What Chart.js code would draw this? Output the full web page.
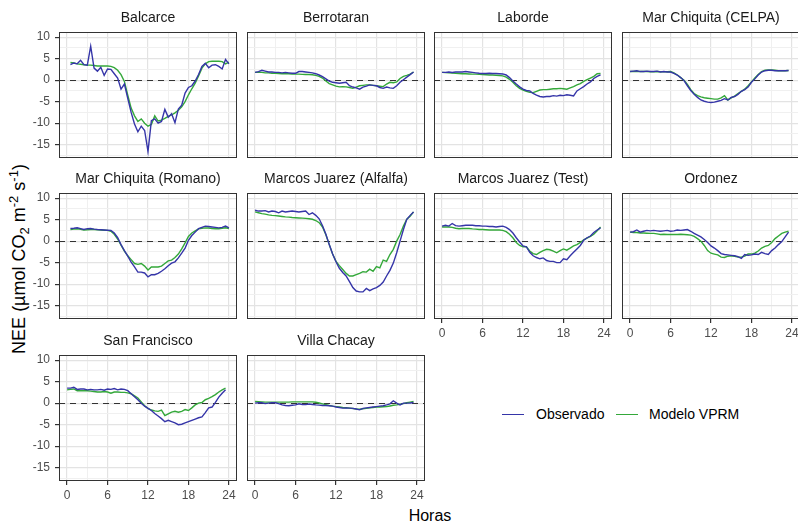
<!DOCTYPE html>
<html>
<head>
<meta charset="utf-8">
<script src="https://cdn.jsdelivr.net/npm/chart.js@4.4.1/dist/chart.umd.min.js"></script>
<style>
  html, body { margin: 0; padding: 0; background: #fff; }
  body { width: 798px; height: 523px; position: relative; overflow: hidden; font-family: "Liberation Sans", Arial, sans-serif; }
  canvas.panel { position: absolute; }
  #ylab { position: absolute; left: 19px; top: 259px; transform: translate(-50%, -50%) rotate(-90deg); white-space: nowrap; font-size: 18px; color: #000; }
  #ylab sub, #ylab sup { font-size: 13px; }
  #xlab { position: absolute; left: 430px; top: 516px; transform: translate(-50%, -50%); font-size: 16px; color: #000; }
  .leg-line { position: absolute; height: 1.5px; width: 22px; }
  .leg-text { position: absolute; font-size: 14px; color: #000; transform: translateY(-50%); white-space: nowrap; }
</style>
</head>
<body>
<div id="ylab">NEE (µmol CO<sub>2</sub> m<sup>-2</sup> s<sup>-1</sup>)</div>
<div id="xlab">Horas</div>
<div class="leg-line" style="left:502px; top:413.5px; background:#3535A8;"></div>
<div class="leg-text" style="left:536px; top:414px;">Observado</div>
<div class="leg-line" style="left:616px; top:413.5px; background:#34A83A;"></div>
<div class="leg-text" style="left:649px; top:414px;">Modelo VPRM</div>
<script>
// horas (medias horas)
const hoursA = [0, 0.5, 1, 1.5, 2, 2.5, 3, 3.5, 4, 4.5, 5, 5.5, 6, 6.5, 7, 7.5, 8, 8.5, 9, 9.5, 10, 10.5, 11, 11.5,
                12, 12.5, 13, 13.5, 14, 14.5, 15, 15.5, 16, 16.5, 17, 17.5, 18, 18.5, 19, 19.5, 20, 20.5, 21, 21.5, 22, 22.5, 23, 23.5];
const hoursB = [0.5, 1, 1.5, 2, 2.5, 3, 3.5, 4, 4.5, 5, 5.5, 6, 6.5, 7, 7.5, 8, 8.5, 9, 9.5, 10, 10.5, 11, 11.5, 12,
                12.5, 13, 13.5, 14, 14.5, 15, 15.5, 16, 16.5, 17, 17.5, 18, 18.5, 19, 19.5, 20, 20.5, 21, 21.5, 22, 22.5, 23, 23.5, 24];

const xTicks = [0, 3, 6, 9, 12, 15, 18, 21, 24];
const yTicks = [-17.5, -15, -12.5, -10, -7.5, -5, -2.5, 0, 2.5, 5, 7.5, 10];

const stations = ['Balcarce', 'Berrotaran', 'Laborde', 'Mar Chiquita (CELPA)',
                  'Mar Chiquita (Romano)', 'Marcos Juarez (Alfalfa)', 'Marcos Juarez (Test)', 'Ordonez',
                  'San Francisco', 'Villa Chacay'];

const balcarceObs = [3.6, 4.0, 3.8, 4.6, 3.6, 3.5, 7.9, 2.8,
  2.1, 3.0, 1.1, 2.6, 2.5, 1.5, 0.5, -2.1,
  -0.9, -4.2, -7.5, -10.2, -12.0, -10.7, -11.7, -16.6,
  -9.4, -9.0, -10.0, -9.6, -6.8, -8.6, -7.8, -9.9,
  -6.7, -5.8, -3.0, -1.7, -1.3, -0.2, 1.3, 3.2,
  3.9, 2.9, 3.5, 3.6, 3.2, 2.6, 4.8, 3.8];
const balcarceMod = [4.1, 4.0, 3.8, 3.7, 3.6, 3.5, 3.5, 3.4,
  3.3, 3.3, 3.3, 3.3, 3.2, 2.9, 2.3, 1.3,
  -0.3, -3.5, -6.5, -8.3, -9.6, -9.0, -10.0, -10.7,
  -10.3, -8.3, -9.5, -9.3, -8.9, -8.4, -8.1, -7.6,
  -7.0, -6.2, -5.0, -3.4, -2.0, -0.7, 1.0, 2.8,
  3.8, 4.3, 4.4, 4.4, 4.4, 4.3, 3.8, 4.2];

const berrotaranObs = [1.8, 2.0, 2.3, 2.1, 1.9, 1.9, 1.8, 1.8,
  1.7, 1.8, 1.7, 1.6, 1.6, 2.0, 2.0, 1.9,
  1.8, 1.7, 1.5, 1.2, 0.8, 0.3, -0.2, -0.5,
  -0.6, -0.7, -0.6, -0.5, -1.3, -1.6, -1.8, -2.1,
  -1.6, -1.4, -1.1, -1.2, -1.3, -1.7, -1.9, -1.6,
  -1.8, -1.9, -1.3, -0.5, 0.1, 0.7, 1.3, 1.9];
const berrotaranMod = [1.8, 1.8, 1.8, 1.7, 1.7, 1.6, 1.6, 1.55,
  1.5, 1.5, 1.5, 1.45, 1.4, 1.4, 1.35, 1.3,
  1.3, 1.25, 1.1, 0.9, 0.5, -0.2, -0.8, -1.1,
  -1.4, -1.55, -1.5, -1.55, -1.7, -1.9, -1.6, -1.3,
  -1.2, -1.1, -1.1, -1.2, -1.3, -1.4, -1.5, -0.9,
  -0.5, -0.6, -0.4, 0.4, 0.9, 1.1, 1.4, 1.9];

const labordeObs = [1.8, 1.8, 1.9, 1.8, 1.9, 1.9, 1.9, 2.0,
  1.9, 1.8, 1.7, 1.6, 1.55, 1.55, 1.6, 1.55,
  1.55, 1.5, 1.45, 1.2, 0.6, -0.2, -0.9, -1.55,
  -2.1, -2.4, -2.5, -3.1, -3.5, -3.8, -3.9, -3.8,
  -3.8, -3.6, -3.7, -3.5, -3.6, -3.4, -3.5, -3.65,
  -2.5, -2.0, -1.5, -0.9, -0.4, 0.4, 0.9, 1.25];
const labordeMod = [1.8, 1.75, 1.7, 1.65, 1.6, 1.55, 1.5, 1.5,
  1.45, 1.4, 1.4, 1.35, 1.3, 1.25, 1.2, 1.2,
  1.15, 1.1, 1.0, 0.7, 0.2, -0.5, -1.3, -1.9,
  -2.3, -2.6, -2.8, -2.9, -2.6, -2.3, -2.2, -2.2,
  -2.1, -2.0, -2.0, -1.9, -2.0, -2.1, -1.8, -1.5,
  -1.1, -0.8, -0.3, 0.1, 0.5, 0.9, 1.5, 1.55];

const celpaObs = [2.0, 2.1, 2.2, 2.0, 2.0, 2.1, 2.0, 2.0,
  2.1, 1.9, 2.0, 1.9, 1.9, 1.6, 1.2, 0.6,
  -0.1, -1.3, -2.4, -3.3, -4.0, -4.6, -4.9, -5.1,
  -5.2, -5.1, -4.9, -4.7, -4.3, -4.6, -4.0, -3.8,
  -3.3, -2.6, -2.2, -1.6, -0.5, 0.3, 1.2, 1.9,
  2.2, 2.3, 2.3, 2.2, 2.2, 2.2, 2.2, 2.25];
const celpaMod = [2.0, 2.0, 2.0, 2.0, 2.0, 2.0, 1.95, 1.95,
  2.0, 1.95, 1.95, 1.95, 2.0, 1.7, 1.2, 0.6,
  0.0, -1.0, -2.2, -3.1, -3.6, -3.9, -4.1, -4.2,
  -4.3, -4.4, -4.4, -4.1, -3.6, -4.6, -4.1, -3.7,
  -3.1, -2.6, -2.1, -1.3, -0.4, 0.5, 1.3, 2.0,
  2.3, 2.4, 2.4, 2.3, 2.2, 2.2, 2.2, 2.25];

const romanoObs = [2.95, 3.0, 3.1, 2.9, 2.7, 2.9, 2.95, 2.8,
  2.7, 2.65, 2.6, 2.55, 2.5, 1.9, 0.8, -0.8,
  -2.2, -3.5, -4.9, -6.0, -7.2, -7.2, -7.4, -8.3,
  -7.8, -7.8, -7.5, -7.0, -6.4, -5.7, -5.1, -4.8,
  -3.9, -2.8, -1.6, 0.2, 1.3, 2.1, 2.9, 3.2,
  3.5, 3.4, 3.3, 3.2, 3.1, 3.2, 3.5, 3.1];
const romanoMod = [2.7, 2.8, 2.9, 2.75, 2.6, 2.65, 2.7, 2.7,
  2.65, 2.6, 2.55, 2.5, 2.3, 1.6, 0.5, -0.9,
  -2.3, -3.4, -4.3, -5.2, -5.4, -5.2, -5.8, -6.7,
  -6.0, -6.0, -6.0, -5.8, -5.2, -4.6, -4.4, -3.8,
  -3.0, -1.8, -0.4, 1.1, 1.9, 2.4, 2.85, 3.0,
  3.1, 3.05, 2.95, 2.9, 2.9, 3.0, 3.1, 2.95];

const alfalfaObs = [7.2, 7.0, 7.0, 7.1, 6.8, 7.0, 6.9, 6.6,
  7.0, 6.8, 6.9, 7.0, 6.9, 6.8, 6.9, 7.0,
  6.2, 6.6, 6.0, 5.2, 3.6, 1.6, -0.8, -3.0,
  -4.8, -6.3, -7.3, -8.1, -9.4, -10.8, -11.6, -11.8,
  -11.8, -11.0, -11.5, -11.1, -10.8, -10.3, -9.5, -8.1,
  -6.8, -5.1, -2.7, 0.0, 2.7, 5.1, 6.0, 6.8];
const alfalfaMod = [6.8, 6.6, 6.4, 6.3, 6.1, 6.0, 5.95, 5.85,
  5.75, 5.65, 5.6, 5.5, 5.45, 5.4, 5.35, 5.3,
  5.2, 5.1, 4.8, 4.3, 3.3, 1.5, -0.8, -3.0,
  -4.7, -5.7, -6.6, -7.5, -8.1, -8.1, -7.8, -7.5,
  -7.1, -7.2, -6.5, -7.0, -5.9, -6.2, -4.4, -4.7,
  -3.1, -1.9, 0.0, 1.55, 3.5, 5.1, 5.8, 6.8];

const testObs = [3.5, 3.7, 3.5, 4.1, 3.6, 3.5, 3.6, 3.7,
  3.7, 3.7, 3.6, 3.6, 3.5, 3.5, 3.4, 3.4,
  3.3, 3.4, 3.5, 3.2, 2.7, 1.9, 0.8, -0.2,
  -1.1, -1.3, -2.6, -3.4, -3.8, -4.1, -3.9, -4.5,
  -4.7, -4.7, -5.0, -5.0, -4.1, -4.3, -3.4, -2.6,
  -1.8, -1.0, 0.2, 0.8, 1.2, 2.0, 2.6, 3.1];
const testMod = [3.3, 3.3, 3.3, 3.2, 3.0, 2.9, 2.95, 2.95,
  2.95, 2.85, 2.8, 2.7, 2.7, 2.65, 2.6, 2.6,
  2.6, 2.6, 2.5, 2.2, 1.6, 0.8, -0.3, -1.0,
  -1.3, -1.3, -2.3, -2.9, -3.1, -2.6, -2.2, -1.9,
  -2.0, -2.3, -2.7, -2.2, -1.8, -2.1, -1.6, -1.1,
  -0.8, -0.3, 0.3, 0.7, 1.1, 1.6, 2.4, 3.3];

const ordonezObs = [2.1, 2.2, 2.6, 2.1, 2.3, 2.5, 2.4, 2.5,
  2.4, 2.3, 2.4, 2.5, 2.3, 2.4, 2.6, 2.5,
  2.6, 2.7, 2.3, 1.8, 1.4, 1.0, 0.4, -0.3,
  -1.1, -1.6, -2.2, -2.9, -3.1, -3.2, -3.3, -3.4,
  -3.6, -4.0, -3.1, -3.3, -3.2, -3.0, -3.1, -2.6,
  -2.9, -3.1, -2.2, -1.6, -0.8, -0.1, 1.0, 2.1];
const ordonezMod = [2.1, 2.0, 2.0, 1.9, 1.9, 1.85, 1.8, 1.8,
  1.7, 1.55, 1.6, 1.55, 1.55, 1.55, 1.55, 1.6,
  1.55, 1.5, 1.4, 1.1, 0.6, 0.0, -1.0, -2.2,
  -2.8, -3.0, -3.2, -3.7, -3.8, -3.5, -3.4, -3.5,
  -3.7, -3.7, -3.5, -3.0, -3.0, -2.8, -2.3, -1.6,
  -1.2, -1.0, -0.3, 0.6, 1.2, 1.8, 2.1, 2.3];

const sanFranciscoObs = [3.5, 3.5, 3.7, 3.2, 3.3, 3.3, 3.1, 3.2,
  3.1, 3.1, 3.2, 3.0, 3.3, 3.2, 3.4, 3.1,
  3.3, 3.2, 2.9, 2.2, 1.5, 0.8, 0.0, -0.7,
  -1.2, -1.7, -2.4, -3.0, -3.6, -4.3, -4.0, -4.3,
  -4.6, -5.0, -4.9, -4.6, -4.3, -4.0, -3.7, -3.4,
  -3.2, -2.2, -1.1, -0.9, 0.2, 1.4, 2.3, 3.1];
const sanFranciscoMod = [3.1, 3.2, 3.3, 2.9, 2.9, 2.9, 2.9, 2.8,
  2.7, 2.6, 2.6, 2.7, 2.6, 2.3, 2.6, 2.6,
  2.5, 2.5, 2.4, 2.2, 1.7, 1.2, 0.3, -0.6,
  -1.2, -1.6, -1.8, -1.9, -1.6, -2.9, -2.5, -2.1,
  -1.9, -2.1, -1.9, -1.5, -1.7, -1.1, -0.4, 0.0,
  0.15, 0.8, 1.1, 1.5, 2.0, 2.6, 3.1, 3.5];

const villaChacayObs = [0.0, 0.1, 0.1, -0.1, 0.0, 0.1, 0.1, -0.1,
  -0.4, -0.55, -0.6, -0.5, -0.4, -0.15, -0.3, -0.35,
  -0.2, -0.3, -0.4, -0.45, -0.55, -0.55, -0.6, -0.7,
  -0.9, -1.0, -1.15, -1.1, -1.15, -1.2, -1.35, -1.55,
  -1.2, -1.1, -1.0, -0.9, -0.8, -0.7, -0.6, -0.4,
  -0.15, 0.55, 0.0, -0.4, 0.0, 0.0, 0.05, 0.15];
const villaChacayMod = [0.4, 0.35, 0.3, 0.25, 0.25, 0.25, 0.25, 0.25,
  0.25, 0.25, 0.25, 0.3, 0.3, 0.3, 0.3, 0.3,
  0.3, 0.3, 0.2, 0.05, -0.15, -0.35, -0.55, -0.7,
  -0.8, -0.9, -1.0, -1.05, -1.15, -1.25, -1.35, -1.4,
  -1.3, -1.2, -1.1, -1.0, -0.9, -0.9, -0.85, -0.8,
  -0.65, -0.5, -0.4, -0.25, -0.1, 0.1, 0.25, 0.4];

const obsSeries = [balcarceObs, berrotaranObs, labordeObs, celpaObs, romanoObs,
                   alfalfaObs, testObs, ordonezObs, sanFranciscoObs, villaChacayObs];
const modSeries = [balcarceMod, berrotaranMod, labordeMod, celpaMod, romanoMod,
                   alfalfaMod, testMod, ordonezMod, sanFranciscoMod, villaChacayMod];
const stationHours = [hoursB, hoursA, hoursA, hoursA, hoursB, hoursA, hoursA, hoursA, hoursA, hoursA];

// colores y geometria
const BLUE = '#3535A8';
const GREEN = '#34A83A';
const colLeft = [59, 247, 434, 622];
const rowTop = [32, 193, 355];
const PW = 178, PH = 126;
const AXW = 45, TOPPAD = 24, AXH = 22, RPAD = 2;

Chart.defaults.font.family = '"Liberation Sans", Arial, sans-serif';
Chart.defaults.animation = false;

// dibuja la linea de cero, el borde del panel y el titulo
const facetPlugin = {
    id: 'facet',
    beforeDatasetsDraw(chart) {
        const ctx = chart.ctx, area = chart.chartArea;
        const y0 = Math.round(chart.scales.y.getPixelForValue(0)) + 0.5;
        ctx.save();
        ctx.strokeStyle = '#333333';
        ctx.lineWidth = 1.2;
        ctx.setLineDash([6, 5]);
        ctx.beginPath();
        ctx.moveTo(area.left, y0);
        ctx.lineTo(area.right, y0);
        ctx.stroke();
        ctx.restore();
    },
    afterDraw(chart, args, opts) {
        const ctx = chart.ctx, area = chart.chartArea;
        ctx.save();
        ctx.strokeStyle = '#333333';
        ctx.lineWidth = 1;
        ctx.strokeRect(area.left + 0.5, area.top + 0.5, area.right - area.left - 1, area.bottom - area.top - 1);
        ctx.fillStyle = '#1a1a1a';
        ctx.font = '14px "Liberation Sans", Arial, sans-serif';
        ctx.textAlign = 'center';
        ctx.textBaseline = 'middle';
        ctx.fillText(opts.title, (area.left + area.right) / 2, area.top - 13.5);
        ctx.restore();
    }
};

stations.forEach(function(name, i) {
    const col = i % 4, row = Math.floor(i / 4);
    const showY = col === 0;
    const showX = row === 2 || (row === 1 && col >= 2);

    const canvas = document.createElement('canvas');
    canvas.className = 'panel';
    canvas.width = AXW + PW + RPAD;
    canvas.height = TOPPAD + PH + AXH;
    canvas.style.left = (colLeft[col] - AXW) + 'px';
    canvas.style.top = (rowTop[row] - TOPPAD) + 'px';
    document.body.appendChild(canvas);

    const hrs = stationHours[i];
    const obs = obsSeries[i].map((v, k) => ({ x: hrs[k], y: v }));
    const mod = modSeries[i].map((v, k) => ({ x: hrs[k], y: v }));

    new Chart(canvas.getContext('2d'), {
        type: 'line',
        data: {
            datasets: [
                { label: 'Observado', data: obs, borderColor: BLUE, borderWidth: 1.4, pointRadius: 0, tension: 0 },
                { label: 'Modelo VPRM', data: mod, borderColor: GREEN, borderWidth: 1.4, pointRadius: 0, tension: 0 }
            ]
        },
        options: {
            responsive: false,
            devicePixelRatio: 1,
            layout: { padding: { top: TOPPAD, right: RPAD, left: 0, bottom: 0 } },
            plugins: {
                legend: { display: false },
                tooltip: { enabled: false },
                facet: { title: name }
            },
            scales: {
                x: {
                    type: 'linear',
                    min: -1.2,
                    max: 25.2,
                    afterBuildTicks: function(scale) {
                        scale.ticks = xTicks.map(v => ({ value: v }));
                    },
                    afterFit: function(scale) {
                        scale.height = AXH;
                        scale.paddingLeft = 0;
                        scale.paddingRight = 0;
                    },
                    border: { display: false },
                    grid: {
                        color: c => (c.tick && c.tick.value % 6 === 0) ? '#e3e3e3' : '#f0f0f0',
                        lineWidth: c => (c.tick && c.tick.value % 6 === 0) ? 1.2 : 1,
                        tickLength: 4,
                        tickColor: c => (showX && c.tick && c.tick.value % 6 === 0) ? '#333333' : 'rgba(0,0,0,0)'
                    },
                    ticks: {
                        display: showX,
                        autoSkip: false,
                        maxRotation: 0,
                        padding: 3,
                        color: '#4d4d4d',
                        font: { size: 12 },
                        callback: v => (v % 6 === 0 ? String(v) : '')
                    }
                },
                y: {
                    type: 'linear',
                    min: -18.1,
                    max: 11.2,
                    afterBuildTicks: function(scale) {
                        scale.ticks = yTicks.map(v => ({ value: v }));
                    },
                    afterFit: function(scale) {
                        scale.width = AXW;
                        scale.paddingTop = 0;
                        scale.paddingBottom = 0;
                    },
                    border: { display: false },
                    grid: {
                        color: c => (c.tick && c.tick.value % 5 === 0) ? '#e3e3e3' : '#f0f0f0',
                        lineWidth: c => (c.tick && c.tick.value % 5 === 0) ? 1.2 : 1,
                        tickLength: 4,
                        tickColor: c => (showY && c.tick && c.tick.value % 5 === 0) ? '#333333' : 'rgba(0,0,0,0)'
                    },
                    ticks: {
                        display: showY,
                        autoSkip: false,
                        padding: 5,
                        color: '#4d4d4d',
                        font: { size: 12 },
                        callback: v => (v % 5 === 0 ? String(v) : '')
                    }
                }
            }
        },
        plugins: [facetPlugin]
    });
});
</script>
</body>
</html>
